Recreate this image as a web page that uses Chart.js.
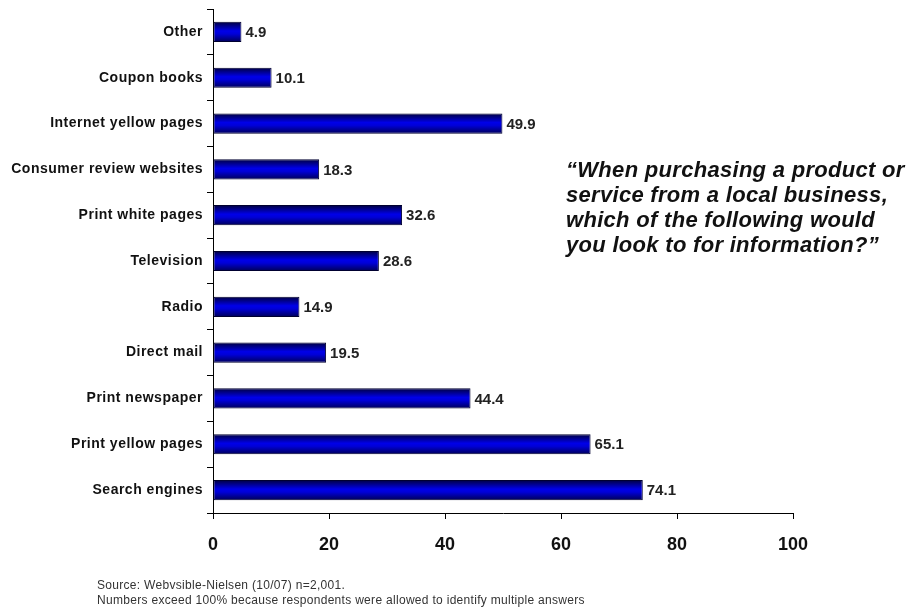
<!DOCTYPE html>
<html>
<head>
<meta charset="utf-8">
<script src="https://cdn.jsdelivr.net/npm/chart.js@4/dist/chart.umd.min.js"></script>
<style>
  html, body { margin: 0; padding: 0; background: #fff; }
  #wrap { width: 907px; height: 608px; }
</style>
</head>
<body>
<div id="wrap"><canvas id="grafico"></canvas></div>
<script>
// dados
const categorias = [
  "Other",
  "Coupon books",
  "Internet yellow pages",
  "Consumer review websites",
  "Print white pages",
  "Television",
  "Radio",
  "Direct mail",
  "Print newspaper",
  "Print yellow pages",
  "Search engines"
];
const valores = [4.9, 10.1, 49.9, 18.3, 32.6, 28.6, 14.9, 19.5, 44.4, 65.1, 74.1];
const eixoX = { min: 0, max: 100, passo: 20 };

const pergunta = [
  "\u201CWhen purchasing a product or",
  "service from a local business,",
  "which of the following would",
  "you look to for information?\u201D"
];
const fonte = [
  "Source: Webvsible-Nielsen (10/07) n=2,001.",
  "Numbers exceed 100% because respondents were allowed to identify multiple answers"
];

const FAMILIA = "'Liberation Sans', Arial, sans-serif";

// gradiente vertical em cada barra
function corBarra(ctx) {
  const chart = ctx.chart;
  if (!chart.chartArea || !chart.scales.y) return "#0000cc";
  const yc = chart.scales.y.getPixelForValue(ctx.dataIndex);
  const g = chart.ctx.createLinearGradient(0, yc - 10, 0, yc + 10);
  g.addColorStop(0, "#000040");
  g.addColorStop(0.45, "#0000e8");
  g.addColorStop(0.6, "#0000d8");
  g.addColorStop(1, "#000058");
  return g;
}

const textos = {
  id: "textos",
  afterDraw(chart) {
    const ctx = chart.ctx;
    const y = chart.scales.y;
    ctx.save();

    // categorias (com espaçamento entre letras)
    ctx.font = "bold 14px " + FAMILIA;
    ctx.letterSpacing = "0.5px";
    ctx.fillStyle = "#111";
    ctx.textAlign = "right";
    ctx.textBaseline = "middle";
    categorias.forEach((c, i) => {
      ctx.fillText(c, 203, y.getPixelForValue(i));
    });

    // rótulos de valor
    const meta = chart.getDatasetMeta(0);
    ctx.letterSpacing = "0px";
    ctx.font = "bold 15px " + FAMILIA;
    ctx.fillStyle = "#222";
    ctx.textAlign = "left";
    meta.data.forEach((bar, i) => {
      ctx.fillText(valores[i].toFixed(1), bar.x + 4, bar.y + 1);
    });

    // pergunta
    ctx.textBaseline = "alphabetic";
    ctx.font = "italic bold 22px " + FAMILIA;
    ctx.letterSpacing = "0.3px";
    ctx.fillStyle = "#111";
    pergunta.forEach((l, i) => ctx.fillText(l, 566, 177 + i * 25));

    // fonte
    ctx.font = "12px " + FAMILIA;
    ctx.letterSpacing = "0.3px";
    ctx.fillStyle = "#333";
    fonte.forEach((l, i) => ctx.fillText(l, 97, 589 + i * 15));
    ctx.restore();
  }
};

new Chart(document.getElementById("grafico"), {
  type: "bar",
  data: {
    labels: categorias,
    datasets: [
      {
        data: valores,
        backgroundColor: corBarra,
        borderColor: "#000030",
        borderWidth: 1,
        borderSkipped: false,
        categoryPercentage: 1,
        barPercentage: 0.44
      }
    ]
  },
  options: {
    indexAxis: "y",
    responsive: true,
    maintainAspectRatio: false,
    animation: false,
    layout: { padding: { top: 9, right: 114, bottom: 0, left: 0 } },
    plugins: {
      legend: { display: false },
      tooltip: { enabled: false }
    },
    scales: {
      x: {
        min: eixoX.min,
        max: eixoX.max,
        afterFit: (s) => { s.height = 95; },
        ticks: {
          stepSize: eixoX.passo,
          color: "#111",
          padding: 15,
          font: { family: FAMILIA, size: 18, weight: "bold" }
        },
        grid: { drawOnChartArea: false, tickLength: 6, color: "#000" },
        border: { color: "#000", width: 1 }
      },
      y: {
        afterFit: (s) => { s.width = 213; },
        ticks: { display: false },
        grid: { drawOnChartArea: false, tickLength: 6, color: "#000", offset: true },
        border: { color: "#000", width: 1 }
      }
    }
  },
  plugins: [textos]
});
</script>
</body>
</html>
